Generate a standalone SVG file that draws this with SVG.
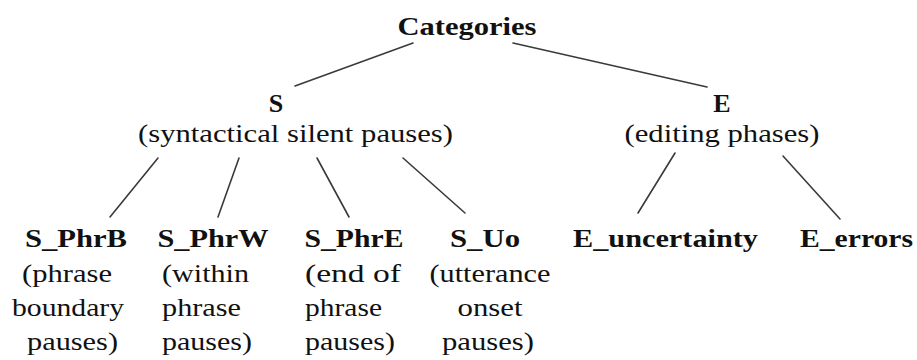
<svg xmlns="http://www.w3.org/2000/svg" width="917" height="360" viewBox="0 0 917 360">
<style>
.t text { font-size: 26px; fill: #111; }
.b { font-weight: bold; }
.m { text-anchor: middle; }
.s { text-anchor: start; }
.c line { stroke: #3a3a3a; stroke-width: 1.6; stroke-linecap: round; }
</style>
<rect width="917" height="360" fill="#fff"/>
<g class="c" id="connectors">
<line x1="413" y1="43" x2="295" y2="86"/>
<line x1="513" y1="43" x2="707" y2="87"/>
<line x1="158" y1="158" x2="110" y2="217"/>
<line x1="239" y1="158" x2="218" y2="217"/>
<line x1="317" y1="158" x2="349" y2="217"/>
<line x1="403" y1="158" x2="465" y2="213"/>
<line x1="675" y1="153" x2="638" y2="213"/>
<line x1="783" y1="156" x2="840" y2="219"/>
</g>
<g class="t" font-family="Liberation Serif, Tinos, Times New Roman, serif">
<g id="root">
<text class="b m" x="467" y="35" textLength="139" lengthAdjust="spacingAndGlyphs">Categories</text>
</g>
<g id="S">
<text class="b m" x="276" y="112">S</text>
<text class="m" x="295.5" y="142" textLength="315" lengthAdjust="spacingAndGlyphs">(syntactical silent pauses)</text>
</g>
<g id="E">
<text class="b m" x="722" y="112">E</text>
<text class="m" x="722" y="142" textLength="195" lengthAdjust="spacingAndGlyphs">(editing phases)</text>
</g>
<g id="S_PhrB">
<text class="b m" x="76" y="247" textLength="102" lengthAdjust="spacingAndGlyphs">S_PhrB</text>
<text class="s" x="22" y="282" textLength="90" lengthAdjust="spacingAndGlyphs">(phrase</text>
<text class="s" x="12" y="316" textLength="112" lengthAdjust="spacingAndGlyphs">boundary</text>
<text class="s" x="27" y="350" textLength="91" lengthAdjust="spacingAndGlyphs">pauses)</text>
</g>
<g id="S_PhrW">
<text class="b m" x="213" y="247" textLength="111" lengthAdjust="spacingAndGlyphs">S_PhrW</text>
<text class="s" x="162" y="282" textLength="87" lengthAdjust="spacingAndGlyphs">(within</text>
<text class="s" x="162" y="316" textLength="79" lengthAdjust="spacingAndGlyphs">phrase</text>
<text class="s" x="162" y="350" textLength="90" lengthAdjust="spacingAndGlyphs">pauses)</text>
</g>
<g id="S_PhrE">
<text class="b m" x="354" y="247" textLength="99" lengthAdjust="spacingAndGlyphs">S_PhrE</text>
<text class="s" x="305" y="282" textLength="96" lengthAdjust="spacingAndGlyphs">(end of</text>
<text class="s" x="305" y="316" textLength="77" lengthAdjust="spacingAndGlyphs">phrase</text>
<text class="s" x="305" y="350" textLength="90" lengthAdjust="spacingAndGlyphs">pauses)</text>
</g>
<g id="S_Uo">
<text class="b m" x="485" y="247" textLength="70" lengthAdjust="spacingAndGlyphs">S_Uo</text>
<text class="m" x="490" y="282" textLength="121" lengthAdjust="spacingAndGlyphs">(utterance</text>
<text class="m" x="490" y="316" textLength="65" lengthAdjust="spacingAndGlyphs">onset</text>
<text class="m" x="488" y="350" textLength="92" lengthAdjust="spacingAndGlyphs">pauses)</text>
</g>
<g id="E_uncertainty">
<text class="b m" x="665.5" y="247" textLength="185" lengthAdjust="spacingAndGlyphs">E_uncertainty</text>
</g>
<g id="E_errors">
<text class="b m" x="856.5" y="247" textLength="113" lengthAdjust="spacingAndGlyphs">E_errors</text>
</g>
</g>
</svg>
